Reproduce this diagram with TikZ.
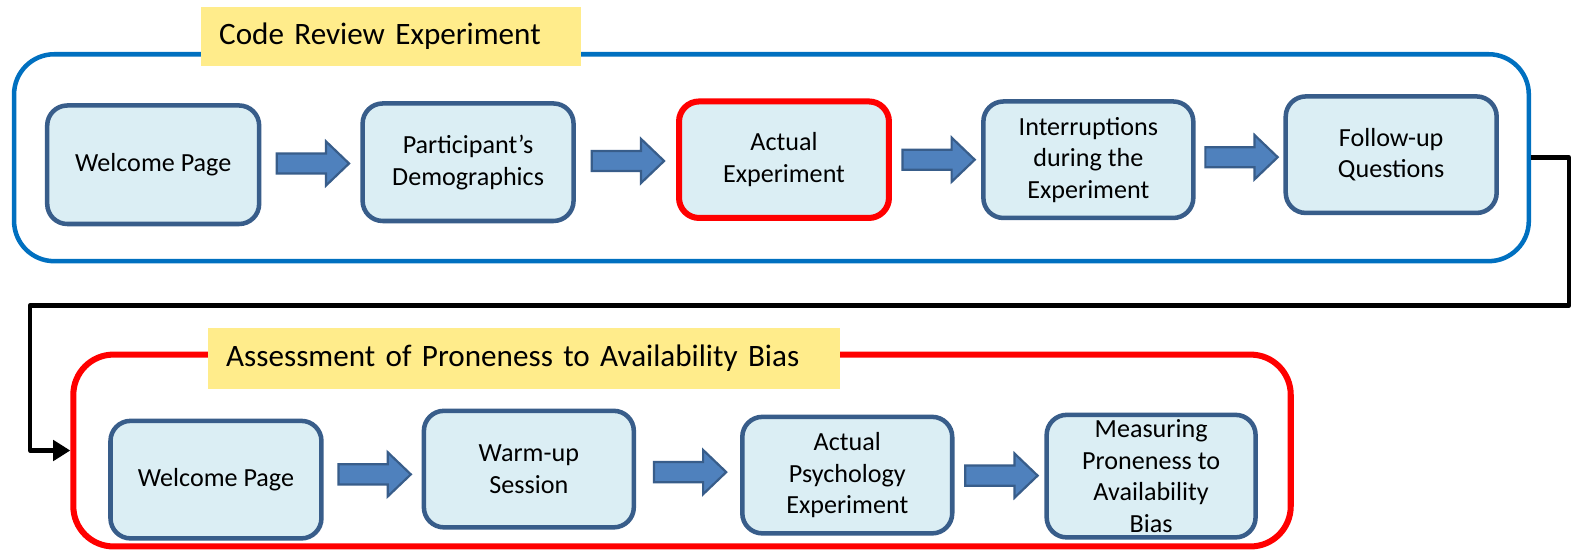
\documentclass[tikz,border=0pt]{standalone}
\usepackage{fontspec}
\setmainfont{Carlito}
\usetikzlibrary{calc,arrows.meta}

\definecolor{stepfill}{RGB}{219,238,244}
\definecolor{stepline}{RGB}{56,93,138}
\definecolor{arrowfill}{RGB}{79,129,189}
\definecolor{framblue}{RGB}{0,112,192}
\definecolor{labelyellow}{RGB}{255,236,139}

\tikzset{
  stepbox/.style={draw=stepline, fill=stepfill, line width=4.5pt,
    rounded corners=20pt, align=center, inner sep=2pt,
    font=\fontsize{26pt}{31.5pt}\selectfont},
  keybox/.style={stepbox, draw=red, line width=6pt},
  phase/.style={draw, rounded corners=40pt, fill=white},
  phaselabel/.style={fill=labelyellow, inner xsep=18pt, inner ysep=0pt,
    align=left, anchor=west, font=\fontsize{31pt}{36pt}\selectfont},
  blockarr/.style={draw=stepline, fill=arrowfill, line width=2.2pt, line join=miter},
  link/.style={draw=black, line width=4.5pt, line join=round,
    -{Triangle[length=17pt,width=20pt]}},
}

% wide block arrow centred in the gap between two steps
\newcommand\flowarrow[2]{%
  \draw[blockarr] let \p1=(#1.east), \p2=(#2.west),
      \n1={(\x1+\x2)/2+2pt}, \n2={(\y1+\y2)/2} in
    (\n1-36pt,\n2+10pt) -- (\n1+13pt,\n2+10pt) -- (\n1+13pt,\n2+22pt)
    -- (\n1+36pt,\n2) -- (\n1+13pt,\n2-22pt) -- (\n1+13pt,\n2-10pt)
    -- (\n1-36pt,\n2-10pt) -- cycle;}

\begin{document}
\begin{tikzpicture}[x=1pt,y=-1pt]
\useasboundingbox (0,0) rectangle (1568,550);

% ---- code review phase ----
\node[phase, draw=framblue, line width=4.5pt, minimum width=1508pt, minimum height=206pt]
  (top) at (768,157) {};
\node[phaselabel, text width=342pt, minimum height=59pt] (toplabel) at (200,36.5)
  {Code Review Experiment};

\node[stepbox, minimum width=211pt, minimum height=118pt] (w1) at (152.5,164) {Welcome Page};
\node[stepbox, minimum width=210pt, minimum height=117pt] (demo) at (466,161.5) {Participant’s\\Demographics};
\node[keybox,  minimum width=209pt, minimum height=116pt] (act) at (780.5,159) {Actual\\Experiment};
\node[stepbox, minimum width=209pt, minimum height=116pt] (intr) at (1083.5,159) {Interruptions\\during the\\Experiment};
\node[stepbox, minimum width=210pt, minimum height=116pt] (foll) at (1385,154) {Follow-up\\Questions};

\flowarrow{w1}{demo}
\flowarrow{demo}{act}
\flowarrow{act}{intr}
\flowarrow{intr}{foll}

% ---- availability bias phase ----
\node[phase, draw=red, line width=6pt, minimum width=1212pt, minimum height=191pt]
  (bot) at (679,448.5) {};
\node[phaselabel, text width=593pt, minimum height=60pt] (botlabel) at (207,357)
  {Assessment of Proneness to Availability Bias};

\node[stepbox, minimum width=210pt, minimum height=117pt] (w2) at (215,477.5) {Welcome Page};
\node[stepbox, minimum width=209pt, minimum height=116pt] (warm) at (526.5,467) {Warm-up\\Session};
\node[stepbox, minimum width=209pt, minimum height=116pt] (psy) at (843.5,473) {Actual\\Psychology\\Experiment};
\node[stepbox, minimum width=208pt, minimum height=122pt] (meas) at (1146,474) {Measuring\\Proneness to\\Availability\\Bias};

\flowarrow{w2}{warm}
\flowarrow{warm}{psy}
\flowarrow{psy}{meas}

% ---- link between the two phases ----
\coordinate (turnR) at (1562,304);
\coordinate (turnL) at (30,304);
\draw[link] (top.east) -| (turnR) -- (turnL) |- (bot.west);
\end{tikzpicture}
\end{document}
